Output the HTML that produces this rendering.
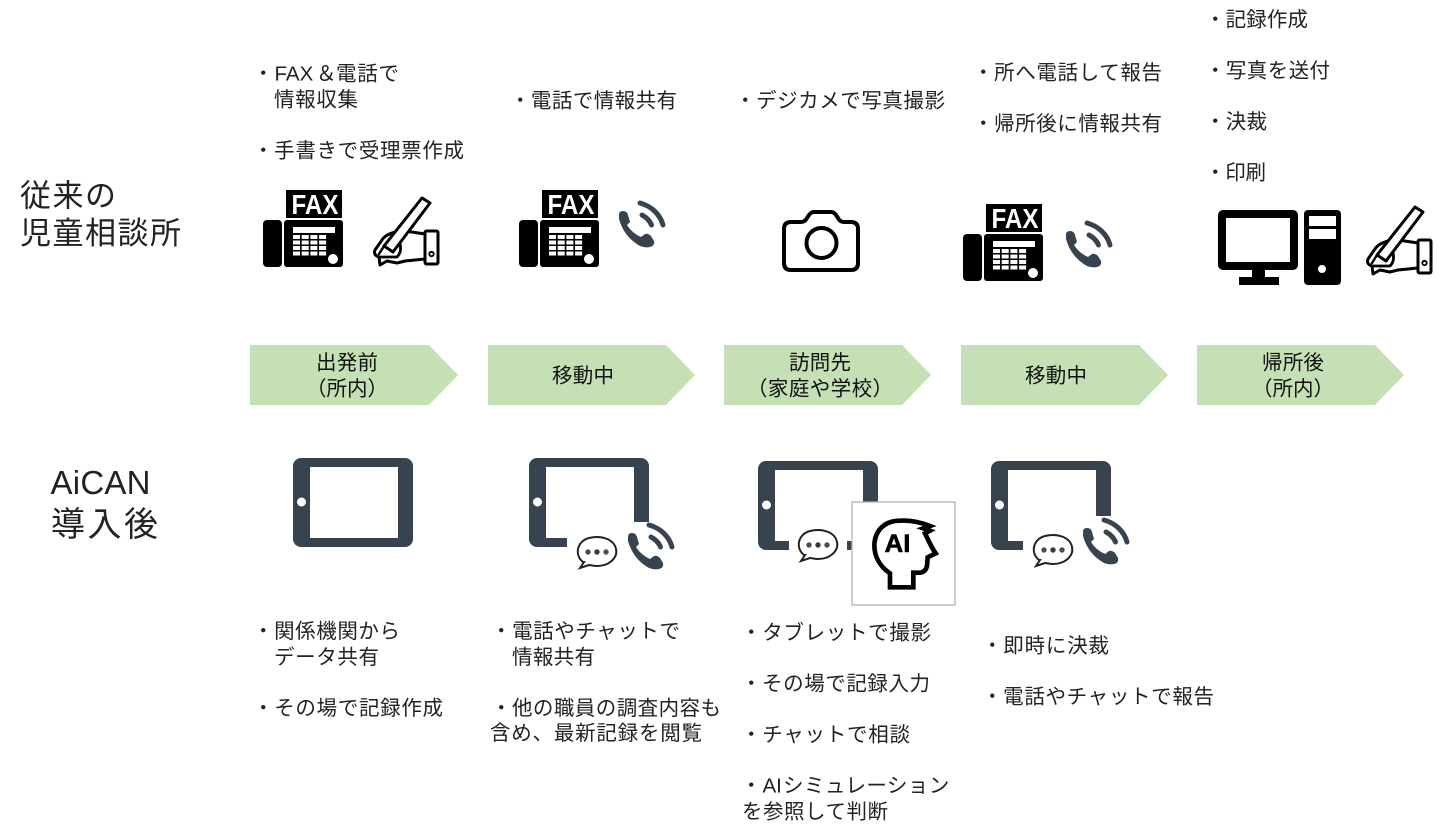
<!DOCTYPE html>
<html lang="ja"><head><meta charset="utf-8"><title>AiCAN</title>
<style>
html,body{margin:0;padding:0;background:#fff;width:1440px;height:838px;overflow:hidden}
svg{display:block}
text{font-family:"Liberation Sans","Noto Sans CJK JP",sans-serif;fill:#222}
.t{font-size:20.5px;font-weight:400}
.c{font-size:20.5px;text-anchor:middle;fill:#111}
.h{font-size:31px;fill:#222}
.f{font-family:"Liberation Sans",sans-serif;font-weight:700;font-size:28px;fill:#fff}
</style></head><body>
<svg width="1440" height="838" viewBox="0 0 1440 838" xmlns="http://www.w3.org/2000/svg">
<defs>
<g id="fax">
<rect x="23" y="0" width="56" height="28"/>
<rect x="0" y="30" width="19" height="47" rx="4"/>
<rect x="21" y="30" width="59" height="47" rx="3"/>
<rect x="30" y="37" width="42" height="6" fill="#fff"/>
<g fill="#fff">
<rect x="30" y="45" width="7" height="4"/><rect x="38.7" y="45" width="7" height="4"/><rect x="47.4" y="45" width="7" height="4"/><rect x="56.1" y="45" width="7" height="4"/>
<rect x="30" y="50.5" width="7" height="4"/><rect x="38.7" y="50.5" width="7" height="4"/><rect x="47.4" y="50.5" width="7" height="4"/><rect x="56.1" y="50.5" width="7" height="4"/>
<rect x="30" y="56" width="7" height="4"/><rect x="38.7" y="56" width="7" height="4"/><rect x="47.4" y="56" width="7" height="4"/><rect x="56.1" y="56" width="7" height="4"/>
<rect x="30" y="61.5" width="7" height="4"/><rect x="38.7" y="61.5" width="7" height="4"/><rect x="47.4" y="61.5" width="7" height="4"/><rect x="56.1" y="61.5" width="7" height="4"/>
<circle cx="70" cy="69" r="5"/>
</g>
</g>
<g id="phone">
<path d="M1 15Q1 11 5 11Q9 11 10 15L12 22L9 25Q14 33 23 37L27 34Q30 33 33 36L36 41Q37 46 32 47Q27 48 22 46Q6 37 1 19Z" fill="#37434e"/>
<g fill="none" stroke="#37434e" stroke-linecap="round" stroke-width="5">
<path d="M22 3C33 6 42 14 45 25"/>
<path d="M24 15C28 17 32 21 33.5 25"/>
</g>
</g>
<g id="pen" fill="none" stroke="#000" stroke-width="3" stroke-linejoin="round" stroke-linecap="round">
<path d="M26 34C18 36 12 38 9 43L2 53Q0 58 6 60L7 68L14 64L24 66L32 64L52 62"/>
<path d="M32 34L52 37"/>
<path d="M7 60L24 60Q29 55 27 47" stroke-width="2.800"/>
<path d="M49 1L57 6L20 55L11 49Z" fill="#fff"/>
<path d="M11 49L6 57" stroke-width="2.400"/>
<rect x="52" y="34" width="13" height="33" rx="1.500" fill="#fff"/>
<circle cx="58.5" cy="57" r="2.200" stroke-width="1.800"/>
</g>
<g id="chat">
<path d="M-14 10C-23 3-20-11-8-14C4-17 17-13 19-3C21 6 12 14 0 14C-4 14-6 13-8 13L-17 16L-13 10Z" fill="#fff" stroke="#2a1f1e" stroke-width="2"/>
<circle cx="-9" cy="0" r="2.700" fill="#4c4c50"/><circle cx="0" cy="0" r="2.700" fill="#37383c"/><circle cx="9" cy="0" r="2.700" fill="#4c4c50"/>
</g>
<g id="tablet">
<rect x="0" y="0" width="120" height="89" rx="8" fill="#37434e"/>
<rect x="17" y="9" width="88" height="71" fill="#fff"/>
<circle cx="8.5" cy="44" r="4.500" fill="#fff"/>
</g>
</defs>

<!-- arrows -->
<g fill="#c5e0b4">
<polygon points="250,345 429,345 458,375 429,405 250,405"/>
<polygon points="488,345 666,345 695,375 666,405 488,405"/>
<polygon points="724,345 902,345 931,375 902,405 724,405"/>
<polygon points="961,345 1139,345 1168,375 1139,405 961,405"/>
<polygon points="1197,345 1375,345 1404,375 1375,405 1197,405"/>
</g>
<text class="c" x="347" y="369.5" textLength="62">出発前</text>
<text class="c" x="347" y="395.5" textLength="82">（所内）</text>
<text class="c" x="583" y="382.5" textLength="62">移動中</text>
<text class="c" x="820" y="369.5" textLength="62">訪問先</text>
<text class="c" x="820" y="395.5" textLength="146">（家庭や学校）</text>
<text class="c" x="1056" y="382.5" textLength="62">移動中</text>
<text class="c" x="1293" y="369.5" textLength="62">帰所後</text>
<text class="c" x="1293" y="395.5" textLength="82">（所内）</text>

<!-- headings -->
<text class="h" x="20" y="206.5" textLength="96">従来の</text>
<text class="h" x="20" y="244" textLength="161">児童相談所</text>
<text class="h" x="50.500" y="494" style="font-size:33px" textLength="100">AiCAN</text>
<text class="h" x="51" y="536" style="font-size:34px" textLength="107">導入後</text>

<!-- top text -->
<text class="t" x="253" y="80.5">・<tspan x="274.5">FAX</tspan><tspan x="316">＆</tspan><tspan x="336" letter-spacing=".7">電話で</tspan></text>
<text class="t" x="274" y="106.5" textLength="84">情報収集</text>
<text class="t" x="253" y="157.5" textLength="211">・手書きで受理票作成</text>
<text class="t" x="510" y="107.5" textLength="167">・電話で情報共有</text>
<text class="t" x="735" y="107.5" textLength="210">・デジカメで写真撮影</text>
<text class="t" x="973" y="79.5" textLength="189">・所へ電話して報告</text>
<text class="t" x="973" y="130.500" textLength="189">・帰所後に情報共有</text>
<text class="t" x="1205" y="26.5" textLength="103">・記録作成</text>
<text class="t" x="1205" y="77.5" textLength="125">・写真を送付</text>
<text class="t" x="1205" y="128.5" textLength="62">・決裁</text>
<text class="t" x="1205" y="179.5" textLength="61">・印刷</text>

<!-- bottom text -->
<text class="t" x="253" y="638" textLength="147">・関係機関から</text>
<text class="t" x="274" y="664" textLength="105">データ共有</text>
<text class="t" x="253" y="715" textLength="190">・その場で記録作成</text>
<text class="t" x="491" y="638" textLength="189">・電話やチャットで</text>
<text class="t" x="512" y="664" textLength="83">情報共有</text>
<text class="t" x="491" y="715" textLength="230">・他の職員の調査内容も</text>
<text class="t" x="490" y="740" textLength="212">含め、最新記録を閲覧</text>
<text class="t" x="741" y="639.5" textLength="190">・タブレットで撮影</text>
<text class="t" x="741" y="690.5" textLength="189">・その場で記録入力</text>
<text class="t" x="741" y="741.5" textLength="169">・チャットで相談</text>
<text class="t" x="741" y="792.5">・<tspan x="762.5">AI</tspan><tspan x="783" letter-spacing=".45">シミュレーション</tspan></text>
<text class="t" x="742" y="818.5" textLength="146">を参照して判断</text>
<text class="t" x="982" y="652.5" textLength="127">・即時に決裁</text>
<text class="t" x="982" y="703.5" textLength="232">・電話やチャットで報告</text>

<!-- top icons -->
<use href="#fax" x="263" y="190"/>
<text class="f" x="291.5" y="214" textLength="47" lengthAdjust="spacingAndGlyphs">FAX</text>
<use href="#pen" x="373" y="197"/>

<use href="#fax" x="519" y="190"/>
<text class="f" x="547.5" y="214" textLength="47" lengthAdjust="spacingAndGlyphs">FAX</text>
<use href="#phone" x="618" y="200"/>

<!-- camera -->
<g fill="none" stroke="#000" stroke-width="4" stroke-linejoin="round">
<path d="M791 222H801Q805 222 807 218L809 215Q811 212 814 212H831Q834 212 836 215L838 218Q840 222 844 222H851Q858 222 858 229V263Q858 270 851 270H791Q784 270 784 263V229Q784 222 791 222Z"/>
<circle cx="821.5" cy="243" r="15"/>
</g>

<use href="#fax" x="963" y="204"/>
<text class="f" x="991.5" y="228" textLength="47" lengthAdjust="spacingAndGlyphs">FAX</text>
<use href="#phone" x="1065" y="220"/>

<!-- computer -->
<rect x="1218" y="210" width="80" height="60" rx="5"/>
<rect x="1226" y="218" width="64" height="44" fill="#fff"/>
<rect x="1252" y="270" width="13" height="8"/>
<rect x="1239" y="277" width="40" height="8"/>
<rect x="1304" y="210" width="37" height="75" rx="4"/>
<rect x="1309" y="216" width="27" height="10" fill="#fff"/>
<rect x="1309" y="229" width="27" height="10" fill="#fff"/>
<circle cx="1322" cy="269" r="4" fill="#fff"/>
<use href="#pen" x="1366" y="206"/>

<!-- bottom icons -->
<use href="#tablet" x="293" y="458"/>

<use href="#tablet" x="529" y="458"/>
<rect x="567" y="522" width="110" height="55" fill="#fff"/>
<use href="#chat" x="597" y="552"/>
<use href="#phone" x="627" y="522"/>

<use href="#tablet" x="758" y="461"/>
<rect x="789" y="520" width="58" height="55" fill="#fff"/>
<use href="#chat" x="818" y="545"/>

<use href="#tablet" x="991" y="461"/>
<rect x="1023" y="516" width="112" height="55" fill="#fff"/>
<use href="#chat" x="1053" y="550"/>
<use href="#phone" x="1082" y="517"/>

<!-- AI box -->
<rect x="852" y="502" width="103" height="103" fill="#fff" stroke="#b4b4b4" stroke-width="1.300"/>
<g transform="translate(865 510) scale(.3333)">
<path d="M75 232V190C45 170 28 140 28 105C30 60 60 32 105 32C135 30 165 36 195 48L175 55L195 62L180 70C190 90 198 110 212 130L188 142L186 168Q182 186 165 188H145V232Z" fill="none" stroke="#000" stroke-width="14" stroke-linejoin="miter"/>
</g>
<text x="884.5" y="552" style="font-family:'Liberation Sans',sans-serif;font-weight:700;font-size:25px;fill:#000;stroke:#000;stroke-width:.5" textLength="26" lengthAdjust="spacingAndGlyphs">AI</text>
</svg>
</body></html>
